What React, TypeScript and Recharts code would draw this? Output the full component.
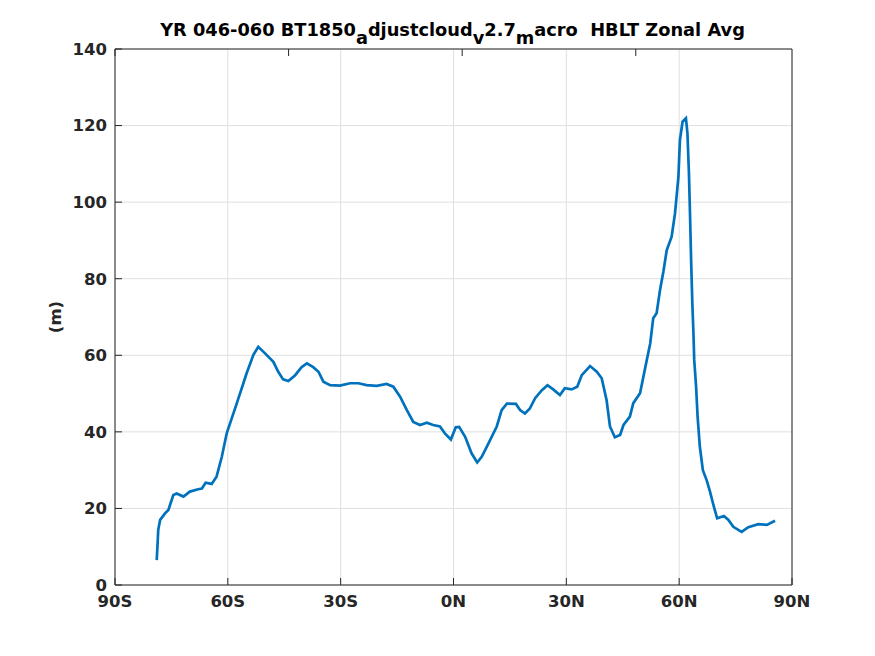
import React from 'react';
import { LineChart, Line, XAxis, YAxis, CartesianGrid } from 'recharts';

// latitude (deg, negative = south) and zonal-mean HBLT (m)
const LATS = [
  -78.9, -78.5, -78.0, -76.7, -75.8, -74.5, -73.6, -71.8, -70.1, -67.9, -66.9, -65.9, -64.3, -63.0,
  -61.6, -60.3, -57.6, -55.0, -53.2, -51.9, -50.1, -47.9, -46.6, -45.3, -43.9, -42.1, -40.4, -39.0,
  -37.3, -35.9, -34.6, -32.8, -30.2, -27.5, -25.3, -23.1, -20.4, -17.8, -16.0, -14.2, -12.4, -10.7,
  -8.9, -7.1, -5.4, -3.6, -2.3, -0.7, 0.6, 1.5, 3.1, 4.8, 6.3, 7.5, 9.3, 11.5, 12.8, 14.2, 16.6, 17.7,
  19.0, 20.3, 21.7, 23.5, 25.0, 26.5, 28.3, 29.6, 31.4, 32.9, 34.1, 36.3, 38.1, 39.4, 40.7, 41.6, 42.9,
  44.3, 45.2, 46.9, 47.8, 49.6, 51.4, 52.3, 53.1, 54.0, 54.9, 55.8, 56.7, 58.0, 58.9, 59.8, 60.2, 60.9,
  61.8, 62.2, 62.6, 62.9, 63.2, 63.5, 63.8, 64.0, 64.5, 64.9, 65.5, 66.3, 67.3, 68.2, 69.1, 70.1, 71.9,
  73.1, 74.4, 76.6, 78.4, 81.0, 83.3, 85.5,
];
const HBLT = [
  6.5, 14.4, 17.0, 18.7, 19.6, 23.5, 23.9, 23.1, 24.4, 25.0, 25.2, 26.7, 26.4, 28.3,
  33.5, 39.6, 47.5, 55.3, 60.1, 62.2, 60.5, 58.3, 55.7, 53.7, 53.3, 54.8, 56.9, 57.9,
  56.9, 55.7, 53.1, 52.2, 52.1, 52.7, 52.7, 52.2, 52.0, 52.5, 51.8, 49.2, 45.7, 42.6,
  41.8, 42.4, 41.8, 41.4, 39.6, 38.0, 41.2, 41.3, 38.7, 34.4, 32.0, 33.5, 37.0, 41.4, 45.7, 47.4, 47.3, 45.7,
  44.8, 46.1, 48.8, 50.9, 52.2, 51.1, 49.6, 51.4, 51.1, 51.8, 54.8, 57.2, 55.7, 54.0, 48.3, 41.4, 38.6,
  39.2, 41.8, 44.0, 47.5, 50.1, 58.8, 63.1, 69.7, 71.0, 77.0, 81.8, 87.5, 91.0, 97.1, 106.6, 116.2, 121.0,
  121.9, 118.0, 107.5, 96.2, 84.0, 73.6, 65.7, 58.8, 51.8, 44.0, 36.1, 30.0, 27.4, 24.4, 20.9, 17.4, 18.0,
  17.0, 15.2, 13.9, 15.1, 15.9, 15.7, 16.8,
];

const X_TICKS = [-90, -60, -30, 0, 30, 60, 90];
const Y_TICKS = [0, 20, 40, 60, 80, 100, 120, 140];

const data = LATS.map((lat, i) => ({ lat, hblt: HBLT[i] }));

const latLabel = (v: number) => (v < 0 ? `${-v}S` : `${v}N`);

const FONT = "'DejaVu Sans', sans-serif";
const INK = '#262626';
const tickStyle = { fontSize: 16.5, fontWeight: 'bold', fill: INK, fontFamily: FONT };

// MATLAB-style "_x" subscripts in the title
const Sub = ({ children }: { children: string }) => (
  <span style={{ position: 'relative', top: 8 }}>{children}</span>
);

export default function App() {
  return (
    <div style={{ position: 'absolute', left: 0, top: 0, width: 875, height: 656, background: '#fff' }}>
      <LineChart width={875} height={656} data={data} margin={{ top: 0, right: 0, bottom: 0, left: 0 }}>
        <CartesianGrid stroke="#dfdfdf" strokeWidth={1} />
        <XAxis
          dataKey="lat"
          type="number"
          domain={[-90, 90]}
          ticks={X_TICKS}
          tickFormatter={latLabel}
          height={71}
          tickSize={-7}
          tickMargin={17}
          tick={tickStyle}
          stroke={INK}
          allowDataOverflow
        />
        <XAxis
          xAxisId="top"
          orientation="top"
          type="number"
          domain={[-90, 90]}
          ticks={X_TICKS}
          tickFormatter={() => ''}
          height={49}
          tickSize={-7}
          stroke={INK}
        />
        <YAxis
          type="number"
          domain={[0, 140]}
          ticks={Y_TICKS}
          width={115}
          tickSize={-7}
          tickMargin={15}
          tick={tickStyle}
          stroke={INK}
        />
        <YAxis
          yAxisId="right"
          orientation="right"
          type="number"
          domain={[0, 140]}
          ticks={Y_TICKS}
          tickFormatter={() => ''}
          width={83}
          tickSize={-7}
          stroke={INK}
        />
        <Line
          dataKey="hblt"
          type="linear"
          stroke="#0072BD"
          strokeWidth={2.7}
          dot={false}
          isAnimationActive={false}
        />
      </LineChart>
      <div
        style={{
          position: 'absolute',
          left: 0,
          width: 905,
          top: 20,
          lineHeight: '20px',
          textAlign: 'center',
          fontFamily: FONT,
          fontWeight: 'bold',
          fontSize: 17.8,
          color: '#000',
          whiteSpace: 'pre',
        }}
      >
        {'YR 046-060 BT1850'}
        <Sub>a</Sub>
        {'djustcloud'}
        <Sub>v</Sub>
        {'2.7'}
        <Sub>m</Sub>
        {'acro  HBLT Zonal Avg'}
      </div>
      <div
        style={{
          position: 'absolute',
          left: 55,
          top: 317,
          transform: 'translate(-50%, -50%) rotate(-90deg)',
          fontFamily: FONT,
          fontWeight: 'bold',
          fontSize: 16.5,
          color: INK,
          whiteSpace: 'pre',
        }}
      >
        (m)
      </div>
    </div>
  );
}
